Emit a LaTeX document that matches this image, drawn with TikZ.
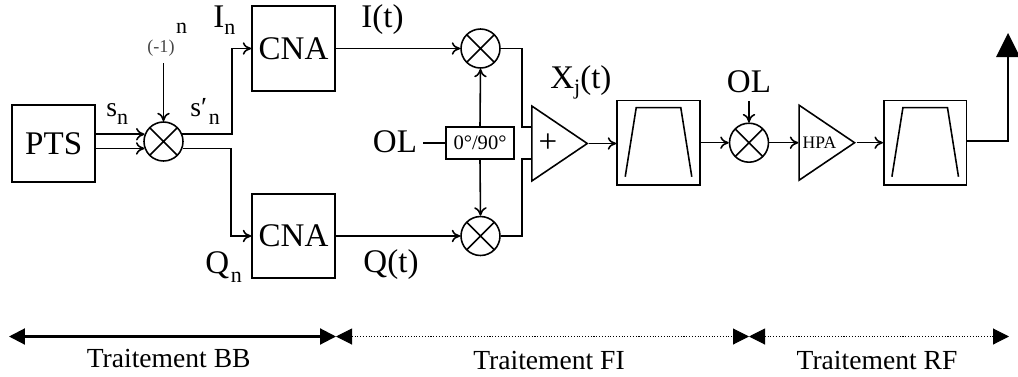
\documentclass[tikz,border=0pt]{standalone}
\usepackage{fontspec}
\setmainfont{Liberation Serif}
\usetikzlibrary{arrows.meta,shapes.geometric}
\definecolor{inkgray}{RGB}{70,70,70}
\newcommand{\bigtxt}{\fontsize{18.8}{20}\selectfont}
\newcommand{\midtxt}{\fontsize{15.7}{18}\selectfont}
\newcommand{\subtxt}[2][1.5mm]{\raisebox{-#1}{\fontsize{12.5}{14}\selectfont #2}}
\tikzset{
    >={To[length=1.7mm,width=2.5mm]},
    wire/.style={line width=0.9pt},
    block/.style={draw,line width=0.9pt,inner sep=0pt,minimum width=1.66cm,minimum height=1.69cm,font=\bigtxt},
    mixer/.style={draw,circle,line width=0.9pt,inner sep=0pt,minimum size=0.78cm,
        path picture={\draw[line width=0.9pt] (path picture bounding box.south west) -- (path picture bounding box.north east)
            (path picture bounding box.north west) -- (path picture bounding box.south east);}},
    amp/.style={draw,isosceles triangle,isosceles triangle stretches,line width=0.9pt,inner sep=0pt,
        minimum width=1.5cm,minimum height=1.11cm,anchor=lower side},
    lbl/.style={inner sep=0pt,font=\bigtxt},
    span/.style={{Triangle[length=3.2mm,width=3.2mm]}-{Triangle[length=3.2mm,width=3.2mm]}},
    stage/.style={inner sep=0pt,anchor=base,font=\midtxt}
}
\begin{document}
\begin{tikzpicture}[x=0.02cm,y=-0.02cm]
    \useasboundingbox (0,0) rectangle (1018,376);

    % Blocks
    \node[block,minimum height=1.54cm] (pts) at (53.7,143.5) {PTS};
    \node[block] (cnaI) at (293.5,48.5) {CNA};
    \node[block] (cnaQ) at (293.5,236) {CNA};
    \node[block] (filtA) at (658.5,142.7) {};
    \node[block] (filtB) at (925.2,142.7) {};
    \node[draw,line width=0.9pt,inner sep=0pt,minimum width=1.36cm,minimum height=0.64cm,font=\fontsize{11.7}{13}\selectfont] (phase) at (480,143) {0°/90°};

    % Mixers
    \foreach \name/\x/\y in {mixS/163.5/141.5, mixI/480.5/48.5, mixQ/480.5/236, mixOL/749/142.7}
        \node[mixer] (\name) at (\x,\y) {};

    % Amplifiers
    \node[amp] (adder) at (531,143.5) {};
    \node[amp] (hpa) at (798.3,142.7) {};
    \node[lbl] (plus) at (548,143) {+};
    \node[lbl,font=\fontsize{10}{12}\selectfont] (hpatxt) at (819.5,143) {HPA};

    % Filter templates
    \foreach \name in {filtA,filtB}
        \draw[wire] ([shift={(9,-9)}]\name.south west) -- ([shift={(20,8)}]\name.north west)
            -- ([shift={(-20,8)}]\name.north east) -- ([shift={(-9,-9)}]\name.south east);

    % Helper points
    \coordinate (bendI) at (232,48.5);
    \coordinate (bendQ) at (231,236);
    \coordinate (signtop) at (163.5,63);
    \coordinate (oltail) at (423,143);
    \coordinate (busA) at (522,127);
    \coordinate (busB) at (522,159);
    \coordinate (portA) at (531,127);
    \coordinate (portB) at (531,159);
    \coordinate (oltop) at (749,101);
    \coordinate (bendAnt) at (1008,141);
    \coordinate (antfoot) at (1008,57);

    % Labels
    \node[lbl,font=\fontsize{10.3}{12}\selectfont,text=inkgray] (sign) at (161,48) {(-1)};
    \node[lbl,font=\fontsize{12.5}{14}\selectfont] (signexp) at (181.5,28) {n};
    \node[lbl,anchor=base west] (sn) at (106,116.5) {\midtxt s\subtxt{n}};
    \node[lbl,anchor=base west] (snp) at (190,116.5) {\midtxt s′\kern1pt\subtxt{n}};
    \node[lbl,anchor=base west] (inlbl) at (213,27) {I\subtxt{n}};
    \node[lbl,anchor=base west] (qnlbl) at (205,273) {Q\kern1pt\subtxt[1.8mm]{n}};
    \node[lbl,anchor=base] (it) at (382.5,27) {I(t)};
    \node[lbl,anchor=base] (qt) at (391,272) {Q(t)};
    \node[lbl,anchor=base west] (xt) at (550,88) {X\subtxt[1.2mm]{j}(t)};
    \node[lbl] (olA) at (395,142) {OL};
    \node[lbl] (olB) at (749,82) {OL};

    % Connectors
    \draw[wire,->] (pts.east |- mixS.159) -- (mixS.159);
    \draw[wire,->] (pts.east |- mixS.200) -- (mixS.200);
    \draw[wire,->] (signtop) -- (mixS.north);
    \draw[wire,->] (mixS.21) -| (bendI) -- (cnaI.west);
    \draw[wire,->] (mixS.-20) -| (bendQ) -- (cnaQ.west);
    \draw[wire,->] (cnaI.east) -- (mixI.west);
    \draw[wire,->] (cnaQ.east) -- (mixQ.west);
    \draw[wire] (oltail) -- (phase.west);
    \draw[wire,->] (phase.north) -- (mixI.south);
    \draw[wire,->] (phase.south) -- (mixQ.north);
    \draw[wire] (mixI.east) -| (busA) -- (portA);
    \draw[wire] (mixQ.east) -| (busB) -- (portB);
    \draw[wire,->] (adder.apex) -- (filtA.west |- adder.apex);
    \draw[wire,->] (filtA.east |- mixOL.west) -- (mixOL.west);
    \draw[wire,->] (oltop) -- (mixOL.north);
    \draw[wire,->] (mixOL.east) -- (hpa.lower side);
    \draw[wire,->] (hpa.apex) -- (filtB.west |- hpa.apex);
    \draw[wire] (filtB.east |- bendAnt) -- (bendAnt) -- (antfoot);
    \fill (996,57) -- (1008,33) -- (1018,53) -- (1018,57) -- cycle;

    % Processing stages
    \coordinate (stA) at (9,336.5);
    \coordinate (stB) at (336,336.5);
    \coordinate (stC) at (749,336.5);
    \coordinate (stD) at (1009,336.5);
    \draw[span,line width=1.2pt] (stA) -- (stB);
    \draw[span,densely dotted,line width=0.6pt] (stB) -- (stC);
    \draw[span,densely dotted,line width=0.6pt] (stC) -- (stD);
    \node[stage] (lblBB) at (168.7,367.7) {Traitement BB};
    \node[stage] (lblFI) at (549,369) {Traitement FI};
    \node[stage] (lblRF) at (877,369) {Traitement RF};
\end{tikzpicture}
\end{document}
